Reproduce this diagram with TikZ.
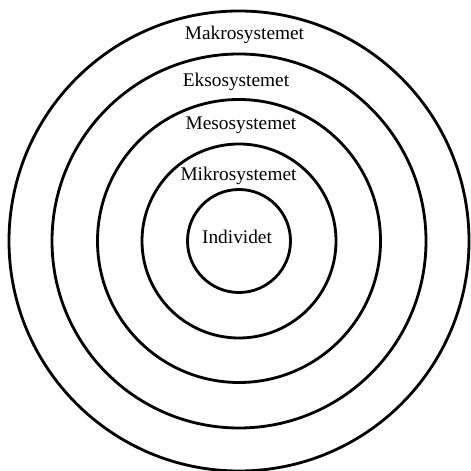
\documentclass[tikz,border=0pt]{standalone}
\usepackage{fontspec}
\setmainfont{Liberation Serif}
\usepackage{tikz}
\usetikzlibrary{positioning}

\begin{document}
\begin{tikzpicture}[
  ring/.style={draw=black, line width=1.6pt},
  level_label/.style={font=\fontsize{11}{13}\selectfont, inner sep=1pt}
]
  \useasboundingbox (0,0) rectangle (9.4,9.42);

  % Common centre of the rings
  \coordinate (centre) at (4.78, 4.60);

  % Rings from outside in
  \draw[ring] (centre) circle (4.60);
  \draw[ring] (centre) circle (3.74);
  \draw[ring] (centre) circle (2.83);
  \draw[ring] (centre) circle (1.94);
  \draw[ring] (centre) circle (1.03);

  % Labels
  \node (makro) [level_label] at (4.89, 8.72) {Makrosystemet};
  \node (ekso) [level_label] at (4.72, 7.78) {Eksosystemet};
  \node (meso) [level_label] at (4.82, 6.92) {Mesosystemet};
  \node (mikro) [level_label] at (4.77, 5.90) {Mikrosystemet};
  \node (individ) [level_label] at (4.74, 4.68) {Individet};

\end{tikzpicture}
\end{document}
